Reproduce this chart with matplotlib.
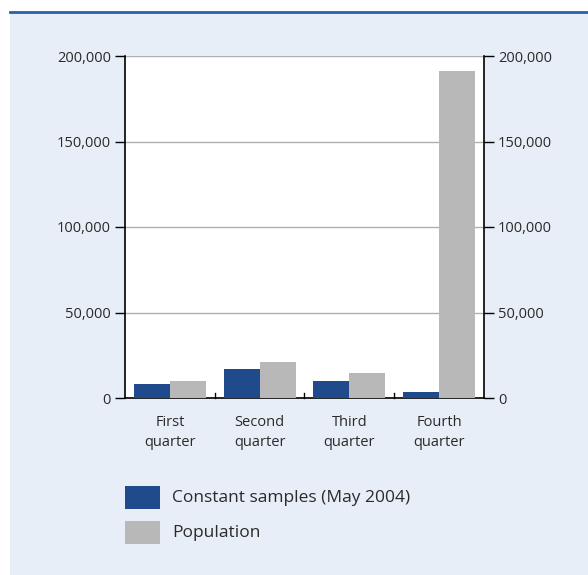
import matplotlib.pyplot as plt
import numpy as np
from matplotlib.ticker import FuncFormatter
from matplotlib.patches import Rectangle
from matplotlib.lines import Line2D

plt.rcParams['font.family'] = ['Open Sans', 'DejaVu Sans']

categories = ["First\nquarter", "Second\nquarter", "Third\nquarter", "Fourth\nquarter"]
constant_samples = [8200, 17000, 9900, 3500]
population = [9900, 21000, 14600, 191000]
series_labels = ["Constant samples (May 2004)", "Population"]
yticks = [0, 50000, 100000, 150000, 200000]

W, H = 588, 575
BG = "#e8eef7"
BLUE = "#1f4a8c"
GREY = "#b8b8b8"
TEXT = "#2a2a2a"

fig = plt.figure(figsize=(W / 100, H / 100), dpi=100)
fig.patch.set_facecolor("white")

# page background panel with a rule on top
fig.add_artist(Rectangle((10 / W, 0), 1 - 10 / W, 1 - 12 / H, transform=fig.transFigure,
                         facecolor=BG, edgecolor="none", zorder=0))
fig.add_artist(Line2D([10 / W, 1], [1 - 12 / H, 1 - 12 / H], transform=fig.transFigure,
                      color="#2f5ea8", lw=2, zorder=1))

left, right, top, bottom = 125, 484, 56, 398
ax = fig.add_axes([left / W, 1 - bottom / H, (right - left) / W, (bottom - top) / H])
ax.set_facecolor("white")

x = np.arange(len(categories))
bw = 0.4
ax.bar(x - bw / 2, constant_samples, bw, color=BLUE, zorder=3)
ax.bar(x + bw / 2, population, bw, color=GREY, zorder=3)

ax.set_xlim(-0.5, len(categories) - 0.5)
ax.set_ylim(0, 200000)
ax.set_yticks(yticks)
fmt = FuncFormatter(lambda v, p: f"{int(v):,}")
ax.yaxis.set_major_formatter(fmt)
ax.grid(axis="y", color="#b0b0b0", lw=1, zorder=1)
ax.set_axisbelow(True)

# category labels between boundary ticks
ax.set_xticks(x)
ax.set_xticklabels(categories, fontsize=10.5, color=TEXT, linespacing=1.45)
ax.tick_params(axis="x", length=0, pad=12)
for b in x[:-1] + 0.5:
    ax.plot([b, b], [0, 3000], color="black", lw=1, zorder=4, clip_on=False)

ax.tick_params(axis="y", direction="out", length=7, width=1, labelsize=10.5,
               labelcolor=TEXT, right=True, labelright=True, pad=3)

for s in ["left", "right", "bottom"]:
    ax.spines[s].set_color("black")
    ax.spines[s].set_linewidth(1.2)
ax.spines["top"].set_visible(False)

# legend
def legend_row(y_top, color, label):
    fig.add_artist(Rectangle((125 / W, 1 - (y_top + 23) / H), 35 / W, 23 / H,
                             transform=fig.transFigure, facecolor=color,
                             edgecolor="none"))
    fig.text(172 / W, 1 - (y_top + 12) / H, label, fontsize=12.5,
             color=TEXT, va="center", ha="left")

legend_row(486, BLUE, series_labels[0])
legend_row(521, GREY, series_labels[1])

fig.savefig("out.png", dpi=100, facecolor=fig.get_facecolor())
